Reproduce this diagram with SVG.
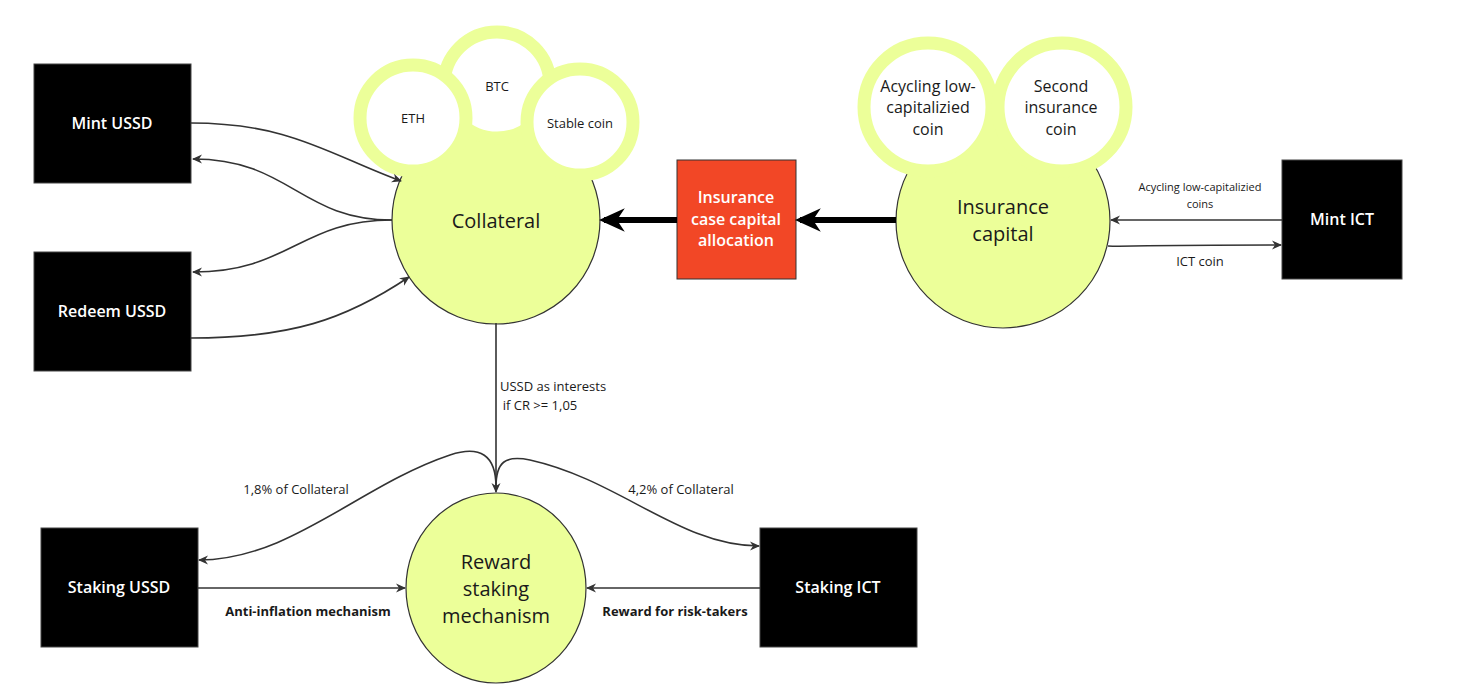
<svg xmlns="http://www.w3.org/2000/svg" width="1468" height="685" viewBox="0 0 1468 685">
<defs>
<marker id="ah" viewBox="0 0 10 10" refX="9" refY="5" markerWidth="10" markerHeight="10" markerUnits="userSpaceOnUse" orient="auto">
<path d="M0,0.5 L10,5 L0,9.5 L3,5 Z" fill="#333"/>
</marker>
<marker id="ahb" viewBox="0 0 10 10" refX="8" refY="5" markerWidth="26" markerHeight="26" markerUnits="userSpaceOnUse" orient="auto">
<path d="M0,0.5 L10,5 L0,9.5 L3,5 Z" fill="#000"/>
</marker>
<style>
text{font-family:"Open Sans","Noto Sans","Liberation Sans",sans-serif;text-anchor:middle;dominant-baseline:central}
.blk{fill:#000;stroke:#444;stroke-width:1}
.bt{fill:#fff;font-weight:600;font-size:16px}
.big{fill:#1a1a1a;font-size:20px}
.sm{fill:#1a1a1a;font-size:13px}
.xs{fill:#1a1a1a;font-size:11px}
.lb{fill:#1a1a1a;font-size:13px;font-weight:bold}
.mid{fill:#1a1a1a;font-size:16px}
.yc{fill:#ecff99;stroke:#333;stroke-width:1.2}
.ring{fill:#fff;stroke:#ecff99;stroke-width:13}
.c{fill:none;stroke:#333;stroke-width:1.6;marker-end:url(#ah)}
.t{fill:none;stroke:#000;stroke-width:6;marker-end:url(#ahb)}
</style>
</defs>
<rect width="1468" height="685" fill="#fff"/>

<g id="collateral">
<circle class="yc" cx="496" cy="220" r="104"/>
<circle class="ring" cx="497" cy="85" r="53"/>
<circle class="ring" cx="413" cy="118" r="53"/>
<circle class="ring" cx="580" cy="122" r="53"/>
<text class="sm" x="497" y="86">BTC</text>
<text class="sm" x="413" y="118">ETH</text>
<text class="sm" x="580" y="123">Stable coin</text>
<text class="big" x="496" y="220">Collateral</text>
</g>

<g id="insurance-capital">
<circle class="yc" cx="1003" cy="221" r="107"/>
<circle class="ring" cx="928" cy="107" r="64"/>
<circle class="ring" cx="1062" cy="107" r="64"/>
<text class="mid" x="928" y="86">Acycling low-</text>
<text class="mid" x="928" y="107">capitalizied</text>
<text class="mid" x="928" y="129">coin</text>
<text class="mid" x="1061" y="86">Second</text>
<text class="mid" x="1061" y="107">insurance</text>
<text class="mid" x="1061" y="129">coin</text>
<text class="big" x="1003" y="206">Insurance</text>
<text class="big" x="1003" y="233">capital</text>
</g>

<g id="reward">
<ellipse class="yc" cx="496" cy="588" rx="90" ry="95"/>
<text class="big" x="496" y="561">Reward</text>
<text class="big" x="496" y="588">staking</text>
<text class="big" x="496" y="615">mechanism</text>
</g>

<g id="mint-ussd"><rect class="blk" x="34" y="64" width="157" height="119"/><text class="bt" x="112" y="123">Mint USSD</text></g>
<g id="redeem-ussd"><rect class="blk" x="34" y="252" width="157" height="119"/><text class="bt" x="112" y="311">Redeem USSD</text></g>
<g id="mint-ict"><rect class="blk" x="1282" y="160" width="120" height="119"/><text class="bt" x="1342" y="219">Mint ICT</text></g>
<g id="staking-ussd"><rect class="blk" x="41" y="528" width="157" height="119"/><text class="bt" x="119" y="587">Staking USSD</text></g>
<g id="staking-ict"><rect class="blk" x="760" y="528" width="157" height="119"/><text class="bt" x="838" y="587">Staking ICT</text></g>
<g id="insurance-case"><rect x="677" y="160" width="119" height="119" fill="#f24726" stroke="#333" stroke-width="1"/>
<text class="bt" x="736" y="197">Insurance</text>
<text class="bt" x="736" y="219">case capital</text>
<text class="bt" x="736" y="240">allocation</text>
</g>

<g id="connectors">
<path class="c" d="M191,123 C290,123 330,155 401,181"/>
<path class="c" d="M392,220 C300,220 290,159 193,159"/>
<path class="c" d="M392,220 C300,220 290,272 193,272"/>
<path class="c" d="M191,338 C290,338 345,320 409,277"/>
<path class="c" d="M496,323 L496,492"/>
<path class="c" d="M496,487 C496,455 480,445 450,455 C360,485 290,560 199,560"/>
<path class="c" d="M496,487 C496,462 505,455 530,460 C620,480 680,546 759,546"/>
<path class="c" d="M198,588 L405,588"/>
<path class="c" d="M760,588 L587,588"/>
<path class="c" d="M1282,220 L1111,220"/>
<path class="c" d="M1108,246 C1125,247 1130,245 1281,245"/>
<path class="t" d="M896,220 L800,220"/>
<path class="t" d="M677,220 L604,220"/>
<text class="sm" x="553" y="386">USSD as interests</text>
<text class="sm" x="540" y="405">if CR &gt;= 1,05</text>
<text class="sm" x="296" y="489">1,8% of Collateral</text>
<text class="sm" x="681" y="489">4,2% of Collateral</text>
<text class="lb" x="308" y="611">Anti-inflation mechanism</text>
<text class="lb" x="675" y="611">Reward for risk-takers</text>
<text class="xs" x="1200" y="186">Acycling low-capitalizied</text>
<text class="xs" x="1200" y="203">coins</text>
<text class="sm" x="1200" y="261">ICT coin</text>
</g>
</svg>
